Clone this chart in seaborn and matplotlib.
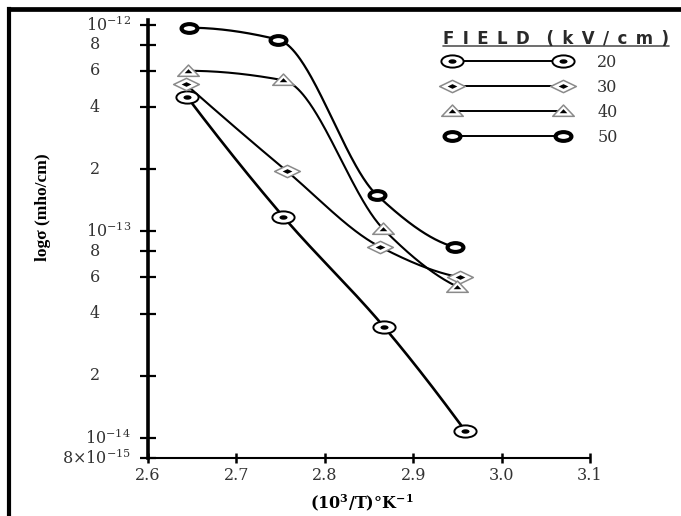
import numpy as np
import matplotlib
matplotlib.use("Agg")
import matplotlib.pyplot as plt
import seaborn as sns
from matplotlib.path import Path
from matplotlib.transforms import Affine2D
from matplotlib.lines import Line2D
from matplotlib.legend_handler import HandlerTuple
from matplotlib.font_manager import FontProperties
from matplotlib.ticker import FixedLocator, NullLocator, NullFormatter

# Inverse temperature (10^3/T, K^-1) and conductivity (mho/cm) for each applied field
x_20 = [2.644, 2.753, 2.867, 2.959]
s_20 = [4.5e-13, 1.18e-13, 3.45e-14, 1.08e-14]
x_30 = [2.643, 2.757, 2.862, 2.953]
s_30 = [5.15e-13, 1.96e-13, 8.45e-14, 6.0e-14]
x_40 = [2.645, 2.753, 2.866, 2.950]
s_40 = [6.0e-13, 5.4e-13, 1.03e-13, 5.4e-14]
x_50 = [2.646, 2.747, 2.859, 2.947]
s_50 = [9.7e-13, 8.5e-13, 1.5e-13, 8.4e-14]
field_labels = ["20", "30", "40", "50"]
legend_title = "FIELD (kV/cm)"

x_ticks = [2.6, 2.7, 2.8, 2.9, 3.0, 3.1]
x_tick_labels = ["2.6", "2.7", "2.8", "2.9", "3.0", "3.1"]
y_ticks = [8e-15, 1e-14, 2e-14, 4e-14, 6e-14, 8e-14,
           1e-13, 2e-13, 4e-13, 6e-13, 8e-13, 1e-12]
y_tick_labels = [r"$\mathregular{8×10^{-15}}$", r"$\mathregular{10^{-14}}$",
                 "2", "4", "6", "8",
                 r"$\mathregular{10^{-13}}$", "2", "4", "6", "8",
                 r"$\mathregular{10^{-12}}$"]

sns.set_style("ticks")
SERIF = "DejaVu Serif"
plt.rcParams["mathtext.fontset"] = "custom"
plt.rcParams["mathtext.rm"] = SERIF
plt.rcParams["mathtext.it"] = SERIF + ":italic"
plt.rcParams["mathtext.bf"] = SERIF + ":bold"
plt.rcParams["font.family"] = [SERIF, "DejaVu Sans"]

W, H = 681, 516
fig = plt.figure(figsize=(W / 100, H / 100), dpi=100)
fig.patch.set_facecolor("white")


def fx(px):
    return px / W


def fy(py):
    return 1 - py / H


ax = fig.add_axes([fx(148), fy(458), fx(590) - fx(148), fy(20) - fy(458)])
ax.set_facecolor("white")
ax.set_yscale("log")
ax.set_xlim(2.6, 3.1)
ax.set_ylim(8e-15, 1.057e-12)


def pchip_curve(x, y, n=80):
    """Shape-preserving cubic through the points (y taken in log10)."""
    x = np.asarray(x, float)
    y = np.log10(np.asarray(y, float))
    h = np.diff(x)
    d = np.diff(y) / h
    m = np.zeros_like(y)
    for k in range(1, len(x) - 1):
        if d[k - 1] * d[k] > 0:
            w1 = 2 * h[k] + h[k - 1]
            w2 = h[k] + 2 * h[k - 1]
            m[k] = (w1 + w2) / (w1 / d[k - 1] + w2 / d[k])

    def end_slope(h0, h1, d0, d1):
        s = ((2 * h0 + h1) * d0 - h0 * d1) / (h0 + h1)
        if np.sign(s) != np.sign(d0):
            s = 0.0
        elif np.sign(d0) != np.sign(d1) and abs(s) > abs(3 * d0):
            s = 3 * d0
        return s

    m[0] = end_slope(h[0], h[1], d[0], d[1])
    m[-1] = end_slope(h[-1], h[-2], d[-1], d[-2])
    xs, ys = [], []
    for k in range(len(h)):
        t = np.linspace(0, 1, n, endpoint=(k == len(h) - 1))
        h00 = 2 * t**3 - 3 * t**2 + 1
        h10 = t**3 - 2 * t**2 + t
        h01 = -2 * t**3 + 3 * t**2
        h11 = t**3 - t**2
        xs.append(x[k] + t * h[k])
        ys.append(h00 * y[k] + h10 * h[k] * m[k] + h01 * y[k + 1] + h11 * h[k] * m[k + 1])
    return np.concatenate(xs), 10 ** np.concatenate(ys)


# marker shapes (wide, as drawn in the original graph)
ellipse = Path.unit_circle().transformed(Affine2D().scale(1.0, 0.55))
diamond = Path([(-1, 0), (0, 0.48), (1, 0), (0, -0.48), (-1, 0)],
               [Path.MOVETO, Path.LINETO, Path.LINETO, Path.LINETO, Path.CLOSEPOLY])
triangle = Path([(-1, -0.45), (0, 0.6), (1, -0.45), (-1, -0.45)],
                [Path.MOVETO, Path.LINETO, Path.LINETO, Path.CLOSEPOLY])

GREY = "#8a8a8a"
styles = {
    "20": dict(outer=dict(marker=ellipse, ms=16, mfc="white", mec="black", mew=1.4),
               inner=dict(marker=ellipse, ms=5.8, mfc="black", mec="black", mew=0),
               lw=1.9),
    "30": dict(outer=dict(marker=diamond, ms=18.5, mfc="white", mec=GREY, mew=1.1),
               inner=dict(marker=diamond, ms=7, mfc="black", mec="black", mew=0),
               lw=1.5),
    "40": dict(outer=dict(marker=triangle, ms=15.5, mfc="white", mec=GREY, mew=1.1),
               inner=dict(marker=triangle, ms=5.5, mfc="black", mec="black", mew=0),
               lw=1.5),
    "50": dict(outer=dict(marker=ellipse, ms=11.5, mfc="white", mec="black", mew=2.9),
               inner=None,
               lw=1.6),
}

series = [("20", x_20, s_20), ("30", x_30, s_30), ("40", x_40, s_40), ("50", x_50, s_50)]

for name, xv, sv in series:
    st = styles[name]
    cx, cy = pchip_curve(xv, sv)
    sns.lineplot(x=cx, y=cy, ax=ax, sort=False, estimator=None,
                 color="black", linewidth=st["lw"], zorder=2)

for name, xv, sv in series:
    st = styles[name]
    ax.plot(xv, sv, ls="none", zorder=4, clip_on=False, **st["outer"])
    if st["inner"] is not None:
        ax.plot(xv, sv, ls="none", zorder=5, clip_on=False, **st["inner"])

# axes styling
for side in ("top", "right"):
    ax.spines[side].set_visible(False)
ax.spines["left"].set_linewidth(2.6)
ax.spines["bottom"].set_linewidth(1.5)
ax.spines["left"].set_color("black")
ax.spines["bottom"].set_color("black")

TICK_FS = 11.5
ax.xaxis.set_major_locator(FixedLocator(x_ticks))
ax.set_xticklabels(x_tick_labels)
ax.tick_params(axis="x", direction="inout", length=6.5, width=1.8, color="black",
               pad=3.5, labelsize=TICK_FS, labelcolor="#333333")
for lbl in ax.get_xticklabels():
    lbl.set_family([SERIF])

ax.yaxis.set_major_locator(FixedLocator(y_ticks))
ax.yaxis.set_major_formatter(NullFormatter())
ax.yaxis.set_minor_locator(NullLocator())
ax.yaxis.set_minor_formatter(NullFormatter())
ax.tick_params(axis="y", direction="inout", length=11, width=1.6, color="black")

ytr = ax.get_yaxis_transform()
ax_w_px = 590 - 148
for val, lab in zip(y_ticks, y_tick_labels):
    if lab.startswith("$"):
        ax.text((131 - 148) / ax_w_px, val, lab, transform=ytr, ha="right",
                va="center", fontsize=TICK_FS, color="#333333")
    else:
        ax.text((95 - 148) / ax_w_px, val, lab, transform=ytr, ha="center",
                va="center", fontsize=TICK_FS, color="#333333")

ax.set_xlabel(r"$\mathbf{(10^{3}/T)°K^{-1}}$", fontsize=11.5, color="black")
ax.xaxis.set_label_coords((362 - 148) / ax_w_px, (458 - 492) / 438)
ax.set_ylabel("logσ (mho/cm)", fontsize=12.5, fontweight="bold", color="black",
              family=["Liberation Serif", SERIF])
ax.yaxis.set_label_coords((51 - 148) / ax_w_px, (458 - 207) / 438)

# legend: marker - line - marker keys with field values
handles = []
for name in field_labels:
    st = styles[name]
    main = Line2D([], [], color="black", lw=1.4, **st["outer"])
    if st["inner"] is not None:
        dot = Line2D([], [], ls="none", **st["inner"])
        handles.append((main, dot))
    else:
        handles.append((main,))

leg = ax.legend(handles, field_labels,
                handler_map={tuple: HandlerTuple(ndivide=1, pad=0)},
                loc="upper left", bbox_to_anchor=(fx(447), fy(54)),
                bbox_transform=fig.transFigure, frameon=False, numpoints=2,
                handlelength=7.55, handletextpad=1.85, labelspacing=0.5,
                borderpad=0, borderaxespad=0,
                prop=FontProperties(family=SERIF, size=TICK_FS))
for t in leg.get_texts():
    t.set_color("#333333")

title_txt = "\u2002".join(list(legend_title)).replace("\u2002 \u2002", "\u2002\u2002")
ttl = fig.text(fx(443), fy(44), title_txt, ha="left", va="baseline",
               fontsize=12, fontweight="bold", family=["DejaVu Sans"], color="#2a2a2a")

fig.canvas.draw()
bb = ttl.get_window_extent()
fig.add_artist(Line2D([bb.x0 / W, bb.x1 / W], [fy(46.5), fy(46.5)],
                      transform=fig.transFigure, color="#555555", lw=1.2))

# outer frame (top and left edges)
fig.add_artist(Line2D([fx(9), fx(9)], [0, fy(9)], transform=fig.transFigure,
                      color="black", lw=3.0, solid_capstyle="projecting"))
fig.add_artist(Line2D([fx(9), 1], [fy(9), fy(9)], transform=fig.transFigure,
                      color="black", lw=3.4, solid_capstyle="projecting"))

fig.savefig("out.png", dpi=100, facecolor="white")
